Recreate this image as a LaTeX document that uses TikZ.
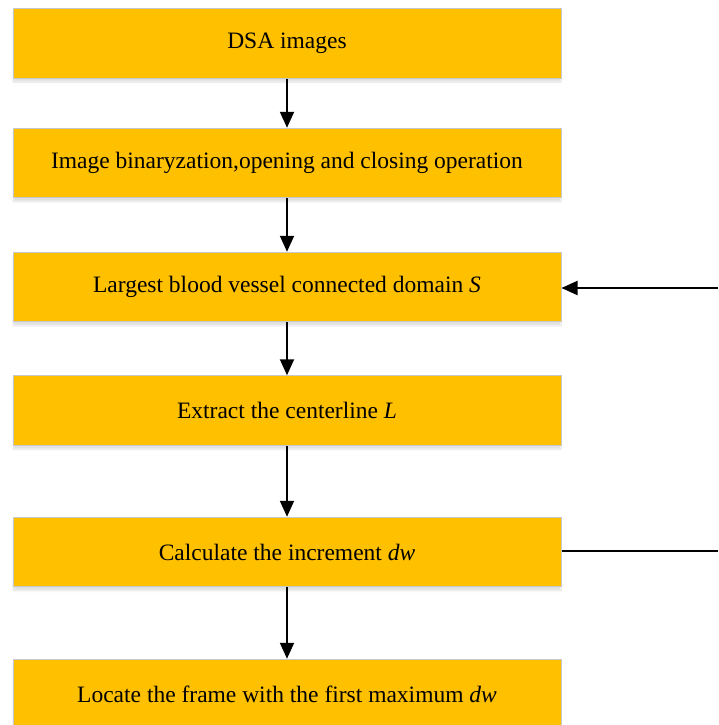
\documentclass[tikz,border=0pt]{standalone}
\usepackage{fontspec}
\setmainfont{Liberation Serif}
\usetikzlibrary{arrows.meta,shadows.blur}
\definecolor{boxfill}{HTML}{FFC000}
\definecolor{boxline}{HTML}{C8C8C8}
\tikzset{
  stepbox/.style={draw=boxline, line width=1pt, fill=boxfill,
    minimum width=548pt, minimum height=69.5pt, inner sep=0pt,
    font=\fontsize{23.5}{28}\selectfont,
    blur shadow={shadow xshift=0pt, shadow yshift=-4pt, shadow opacity=12, shadow blur steps=6}},
  flow/.style={line width=2pt, -{Triangle[length=16pt,width=14pt]}},
  plain/.style={line width=2pt}
}
\begin{document}
\begin{tikzpicture}[x=1pt,y=-1pt]
  \useasboundingbox (0,0) rectangle (718,725);
  \node[stepbox] (dsa)  at (287,43.25)  {DSA images};
  \node[stepbox] (bin)  at (287,163)    {Image binaryzation,opening and closing operation};
  \node[stepbox] (dom)  at (287,287)    {Largest blood vessel connected domain \textit{S}};
  \node[stepbox] (cen)  at (287,410.5)  {Extract the centerline \textit{L}};
  \node[stepbox] (inc)  at (287,552)    {Calculate the increment \textit{dw}};
  \node[stepbox] (loc)  at (287,694)    {Locate the frame with the first maximum \textit{dw}};
  \coordinate (fbin) at (718,288);
  \coordinate (fout) at (718,551);
  \draw[flow] (dsa.south) -- (bin.north);
  \draw[flow] (bin.south) -- (dom.north);
  \draw[flow] (dom.south) -- (cen.north);
  \draw[flow] (cen.south) -- (inc.north);
  \draw[flow] (inc.south) -- (loc.north);
  \draw[flow] (fbin) -- (dom.east |- fbin);
  \draw[plain] (inc.east |- fout) -- (fout);
\end{tikzpicture}
\end{document}
